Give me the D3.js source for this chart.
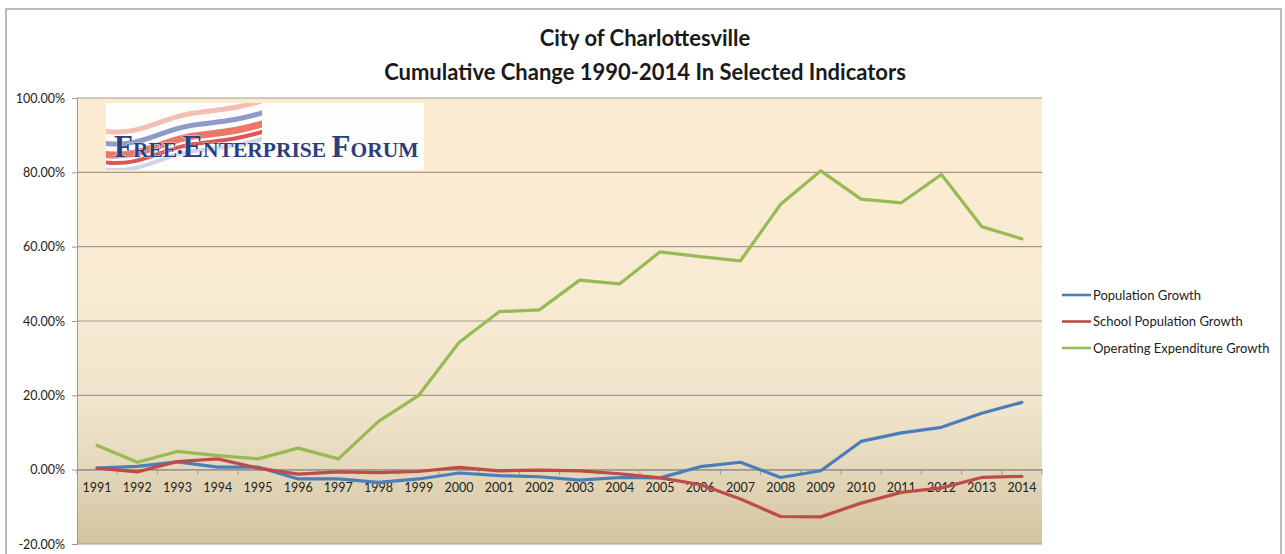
<!DOCTYPE html>
<html>
<head>
<meta charset="utf-8">
<script src="https://cdn.jsdelivr.net/npm/d3@7"></script>
<style>
  html, body { margin: 0; padding: 0; background: #fff; }
  svg { display: block; }
  .lbl { font-family: Lato, "Open Sans", sans-serif; font-size: 12.5px; fill: #222; }
  .leg { font-family: Lato, "Open Sans", sans-serif; font-size: 13px; fill: #222; }
</style>
</head>
<body>
<svg id="chart" width="1285" height="554"></svg>
<script>
// Years on the category axis
const years = ["1991","1992","1993","1994","1995","1996","1997","1998","1999","2000",
               "2001","2002","2003","2004","2005","2006","2007","2008","2009","2010",
               "2011","2012","2013","2014"];

// Cumulative change since 1990, in percent
const populationGrowth = [0.4, 0.9, 2.1, 0.7, 0.7, -2.5, -2.5, -3.4, -2.5, -0.9,
                          -1.6, -1.9, -2.8, -2.1, -2.2, 0.8, 2.0, -2.1, -0.3, 7.6,
                          9.9, 11.4, 15.2, 18.1];
const schoolPopulationGrowth = [0.4, -0.6, 2.2, 2.9, 0.4, -1.2, -0.6, -0.8, -0.5, 0.6,
                                -0.3, -0.1, -0.3, -1.1, -2.2, -4.0, -7.9, -12.6, -12.7, -9.0,
                                -6.1, -4.9, -2.1, -1.8];
const operatingExpenditureGrowth = [6.5, 2.0, 4.9, 3.8, 2.9, 5.8, 2.9, 13.0, 20.0, 34.2,
                                    42.5, 43.0, 51.0, 50.0, 58.6, 57.3, 56.2, 71.4, 80.4, 72.8,
                                    71.8, 79.4, 65.4, 62.1];

const seriesNames = ["Population Growth", "School Population Growth", "Operating Expenditure Growth"];
const seriesColors = ["#4a7ebb", "#be4b48", "#98b954"];
const yTicks = [-20, 0, 20, 40, 60, 80, 100];

const titleLines = ["City of Charlottesville", "Cumulative Change 1990-2014 In Selected Indicators"];

const svg = d3.select("#chart");
const W = 1285, H = 554;
const plot = { left: 77, right: 1042, top: 98, bottom: 544 };

svg.append("rect").attr("width", W).attr("height", H).attr("fill", "#fff");

// chart frame
svg.append("rect")
  .attr("x", 6).attr("y", 9).attr("width", 1275).attr("height", 580)
  .attr("fill", "none").attr("stroke", "#bcbcbc").attr("stroke-width", 2);

// plot-area gradient
const defs = svg.append("defs");
const grad = defs.append("linearGradient").attr("id", "bg")
  .attr("x1", 0).attr("y1", 0).attr("x2", 0).attr("y2", 1);
[["0%", "#fcecd1"], ["45%", "#f8ebd4"], ["70%", "#efe4cc"], ["85%", "#e3d6b8"], ["100%", "#d2c29e"]]
  .forEach(([o, c]) => grad.append("stop").attr("offset", o).attr("stop-color", c));

const x = d3.scaleBand().domain(years).range([plot.left, plot.right]).paddingInner(0).paddingOuter(0);
const y = d3.scaleLinear().domain([-20, 100]).range([plot.bottom, plot.top]);

svg.append("rect")
  .attr("x", plot.left).attr("y", plot.top)
  .attr("width", plot.right - plot.left).attr("height", plot.bottom - plot.top)
  .attr("fill", "url(#bg)");

// horizontal gridlines
svg.append("g").selectAll("line").data(yTicks).join("line")
  .attr("x1", plot.left).attr("x2", plot.right)
  .attr("y1", d => y(d)).attr("y2", d => y(d))
  .attr("stroke", "#a39b8b").attr("stroke-width", 1.2);

// value axis
const yAxis = svg.append("g").attr("transform", `translate(${plot.left},0)`)
  .call(d3.axisLeft(y).tickValues(yTicks).tickSize(5).tickPadding(7)
        .tickFormat(d => d.toFixed(2) + "%"));
yAxis.select(".domain").attr("stroke", "#9a9a9a");
yAxis.selectAll(".tick line").attr("stroke", "#9a9a9a");
yAxis.selectAll("text").attr("class", "lbl").attr("font-family", null).attr("font-size", null);

// category axis on the zero line
const xAxis = svg.append("g").attr("transform", `translate(0,${y(0)})`)
  .call(d3.axisBottom(x).tickSize(0).tickPadding(13));
xAxis.select(".domain").attr("stroke", "#9a9a9a").attr("stroke-width", 1.2);
xAxis.selectAll("text").attr("class", "lbl").attr("font-family", null).attr("font-size", null);
// tick marks between categories
svg.append("g").selectAll("line").data(d3.range(years.length + 1)).join("line")
  .attr("x1", i => plot.left + i * x.step()).attr("x2", i => plot.left + i * x.step())
  .attr("y1", y(0)).attr("y2", y(0) + 5)
  .attr("stroke", "#9a9a9a");

// series lines
const seriesData = [populationGrowth, schoolPopulationGrowth, operatingExpenditureGrowth];
const line = d3.line()
  .x((d, i) => x(years[i]) + x.bandwidth() / 2)
  .y(d => y(d));
svg.append("g").selectAll("path").data(seriesData).join("path")
  .attr("d", line)
  .attr("fill", "none")
  .attr("stroke", (d, i) => seriesColors[i])
  .attr("stroke-width", 3.2)
  .attr("stroke-linejoin", "round")
  .attr("stroke-linecap", "round");

// title
svg.append("g").selectAll("text").data(titleLines).join("text")
  .attr("x", 645).attr("y", (d, i) => 46 + i * 34)
  .attr("text-anchor", "middle")
  .attr("font-family", "Lato, 'Open Sans', sans-serif")
  .attr("font-weight", "bold")
  .attr("font-size", 22)
  .attr("fill", "#1a1a1a")
  .text(d => d);

// legend
const legend = svg.append("g").attr("transform", "translate(1062,295)");
const li = legend.selectAll("g").data(seriesNames).join("g")
  .attr("transform", (d, i) => `translate(0,${i * 26.5})`);
li.append("line").attr("x1", 0).attr("x2", 29).attr("y1", 0).attr("y2", 0)
  .attr("stroke", (d, i) => seriesColors[i]).attr("stroke-width", 2.6);
li.append("text").attr("class", "leg").attr("x", 31).attr("y", 4.5).text(d => d);

// Free Enterprise Forum badge
const logo = svg.append("g").attr("transform", "translate(106,103)");
logo.append("rect").attr("width", 318).attr("height", 67).attr("fill", "#fdfdfb");
defs.append("clipPath").attr("id", "ribbonClip")
  .append("rect").attr("width", 156).attr("height", 67);
const ribbons = logo.append("g").attr("clip-path", "url(#ribbonClip)");
const wave = y0 => `M-4,${y0} C35,${y0 + 6} 55,${y0 - 14} 88,${y0 - 18} S138,${y0 - 24} 162,${y0 - 32}`;
[[28, "#f2b4a4", 5], [40, "#7b88c0", 5], [51, "#e9604f", 7], [59, "#d63a32", 4], [66, "#c8cce4", 4]]
  .forEach(([y0, c, w]) => ribbons.append("path").attr("d", wave(y0)).attr("fill", "none")
    .attr("stroke", c).attr("stroke-width", w).attr("opacity", 0.85));
logo.append("text").attr("x", 8).attr("y", 54)
  .attr("font-family", "'Liberation Serif', 'DejaVu Serif', serif")
  .attr("font-weight", "bold").attr("fill", "#2c3f7c")
  .attr("stroke", "#fdfdfb").attr("stroke-width", 0.7).attr("paint-order", "stroke")
  .selectAll("tspan")
  .data([["F", 31], ["REE", 21.5], ["\u2022", 15], ["E", 31], ["NTERPRISE ", 21.5], ["F", 31], ["ORUM", 21.5]])
  .join("tspan").attr("font-size", d => d[1]).text(d => d[0]);
</script>
</body>
</html>
